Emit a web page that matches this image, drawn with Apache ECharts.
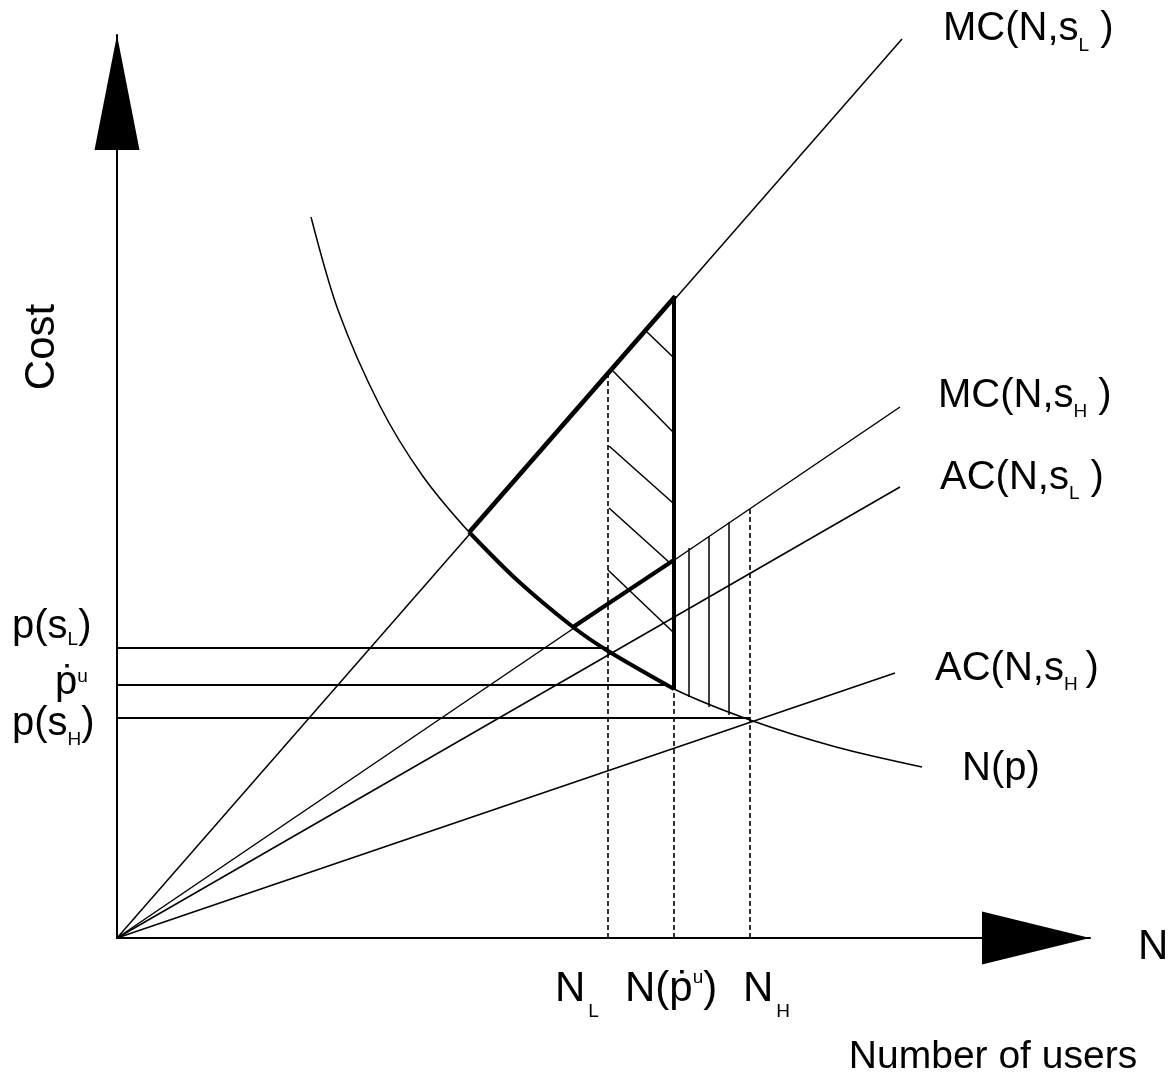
<!DOCTYPE html>
<html><head><meta charset="utf-8">
<script src="https://cdn.jsdelivr.net/npm/echarts@6/dist/echarts.min.js"></script>
<style>html,body{margin:0;padding:0;background:#fff}#c{width:1174px;height:1082px}</style>
</head><body><div id="c"></div>
<script>
// ---- data (axis units, origin at the axes' intersection) ----
const mcSL = [[0,0],[785,899]];
const mcSH = [[0,0],[783,531]];
const acSL = [[0,0],[783,451]];
const acSH = [[0,0],[778,265]];
const demand = [[194,721],[221,628],[263,532],[305,463],[352,406],[400,358],[456,311],[491,287],[557,249],[633,218],[719,191],[805,171]];
const boldMCsL = [[352,406],[558,642]];
const boldDemand = [[352,406],[400,358],[456,311],[491,287],[557,249]];
const boldMCsH = [[456,311],[557,378]];
const boldVertical = [[557,249],[557,642]];
const dashNL = [[491,0],[491,567]];
const dashNPu = [[557,0],[557,249]];
const dashNH = [[633,0],[633,431]];
const priceSL = [[0,290],[491,290]];
const pricePu = [[0,253],[550,253]];
const priceSH = [[0,220],[633,220]];
const hatchDiag = [
  [[530,606],[556,581]],
  [[496,567],[556,506]],
  [[492,492],[556,435]],
  [[492,430],[553,375]],
  [[491,368],[556,306]]
];
const hatchVert = [
  [[572,241],[572,390]],
  [[592,231],[592,402]],
  [[612,223],[612,416]]
];

const FONT = "'Liberation Sans', Arial, Helvetica, 'DejaVu Sans', sans-serif";

function seg(data, width, type, z, smooth) {
  return {
    type: 'line', data: data, symbol: 'none', silent: true, animation: false,
    smooth: smooth || false,
    lineStyle: { color: '#000', width: width, type: type || 'solid' },
    z: z || 2
  };
}

const series = [
  seg(mcSL, 1.5), seg(mcSH, 1.5), seg(acSL, 1.5), seg(acSH, 1.5),
  seg(demand, 1.5, 'solid', 2, 0.3),
  seg(priceSL, 1.8), seg(pricePu, 1.8), seg(priceSH, 1.8),
  seg(dashNL, 1.6, [5,3]), seg(dashNPu, 1.6, [5,3]), seg(dashNH, 1.6, [5,3]),
  seg(boldMCsL, 4, 'solid', 5), seg(boldDemand, 4, 'solid', 5, 0.3),
  seg(boldMCsH, 4, 'solid', 5), seg(boldVertical, 4, 'solid', 5)
];
hatchDiag.forEach(d => series.push(seg(d, 1.5)));
hatchVert.forEach(d => series.push(seg(d, 1.5)));

// rich label helper: x = left edge, C = cap-centre y
function label(x, C, parts, F, f, opts) {
  opts = opts || {};
  const subD = opts.subD == null ? 16 : opts.subD;
  const supD = opts.supD == null ? -8 : opts.supD;
  const padL = opts.padL || 0;
  const rich = {
    b: { fontSize: F, fontFamily: FONT, fill: '#000', verticalAlign: 'top' },
    sub: { fontSize: f, fontFamily: FONT, fill: '#000', verticalAlign: 'top',
           padding: [F/2 + subD - f/2, 0, 0, padL] },
    sup: { fontSize: f, fontFamily: FONT, fill: '#000', verticalAlign: 'top',
           padding: [Math.max(0, F/2 + supD - f/2), 0, 0, 0] }
  };
  const text = parts.map(p => '{' + p[1] + '|' + p[0] + '}').join('');
  return {
    type: 'text', x: x, y: C - F/2, silent: true,
    style: { text: text, rich: rich, align: 'left', verticalAlign: 'top',
             font: F + 'px ' + FONT, fill: '#000' }
  };
}

const graphics = [
  label(943, 29, [['MC(N,s','b'],['L','sub'],[' )','b']], 40, 19, {subD: 17}),
  label(938, 396, [['MC(N,s','b'],['H','sub'],[' )','b']], 40, 19, {subD: 16}),
  label(940, 478, [['AC(N,s','b'],['L','sub'],[' )','b']], 40, 19, {subD: 16}),
  label(935, 669, [['AC(N,s','b'],['H','sub'],['\u2009)','b']], 40, 19, {subD: 16}),
  label(962, 769, [['N(p)','b']], 40, 19),
  label(12, 627, [['p(s','b'],['L','sub'],[')','b']], 40, 19, {subD: 13}),
  label(55, 683, [['\u1E57','b'],['u','sup']], 40, 19, {supD: -6}),
  label(12, 724, [['p(s','b'],['H','sub'],[')','b']], 40, 19, {subD: 16}),
  label(555, 989, [['N','b'],['L','sub']], 42, 19, {subD: 23, padL: 3}),
  label(625, 989, [['N(\u1E57','b'],['u','sup'],[')','b']], 42, 19, {supD: -12}),
  label(743, 989, [['N','b'],['H','sub']], 42, 19, {subD: 23, padL: 3}),
  label(1138, 947, [['N','b']], 42, 19),
  {
    type: 'text', x: 993, y: 1057, silent: true,
    style: { text: 'Number of users', font: '39px ' + FONT, fill: '#000',
             align: 'center', verticalAlign: 'middle' }
  },
  {
    type: 'text', x: 42, y: 347, rotation: Math.PI / 2, silent: true,
    style: { text: 'Cost', font: '42px ' + FONT, fill: '#000',
             align: 'center', verticalAlign: 'middle' }
  }
];

const chart = echarts.init(document.getElementById('c'), null, { renderer: 'canvas' });
chart.setOption({
  backgroundColor: '#fff',
  animation: false,
  grid: { left: 117, right: 84, top: 35, bottom: 144 },
  xAxis: {
    type: 'value', min: 0, max: 973,
    axisLine: { show: true, onZero: false, lineStyle: { color: '#000', width: 2 },
                symbol: ['none', 'triangle'], symbolSize: [53, 108], symbolOffset: [0, -54] },
    axisTick: { show: false }, axisLabel: { show: false }, splitLine: { show: false }
  },
  yAxis: {
    type: 'value', min: 0, max: 903,
    axisLine: { show: true, onZero: false, lineStyle: { color: '#000', width: 2 },
                symbol: ['none', 'triangle'], symbolSize: [45, 115], symbolOffset: [0, -57.5] },
    axisTick: { show: false }, axisLabel: { show: false }, splitLine: { show: false }
  },
  series: series,
  graphic: graphics
});
</script>
</body></html>
